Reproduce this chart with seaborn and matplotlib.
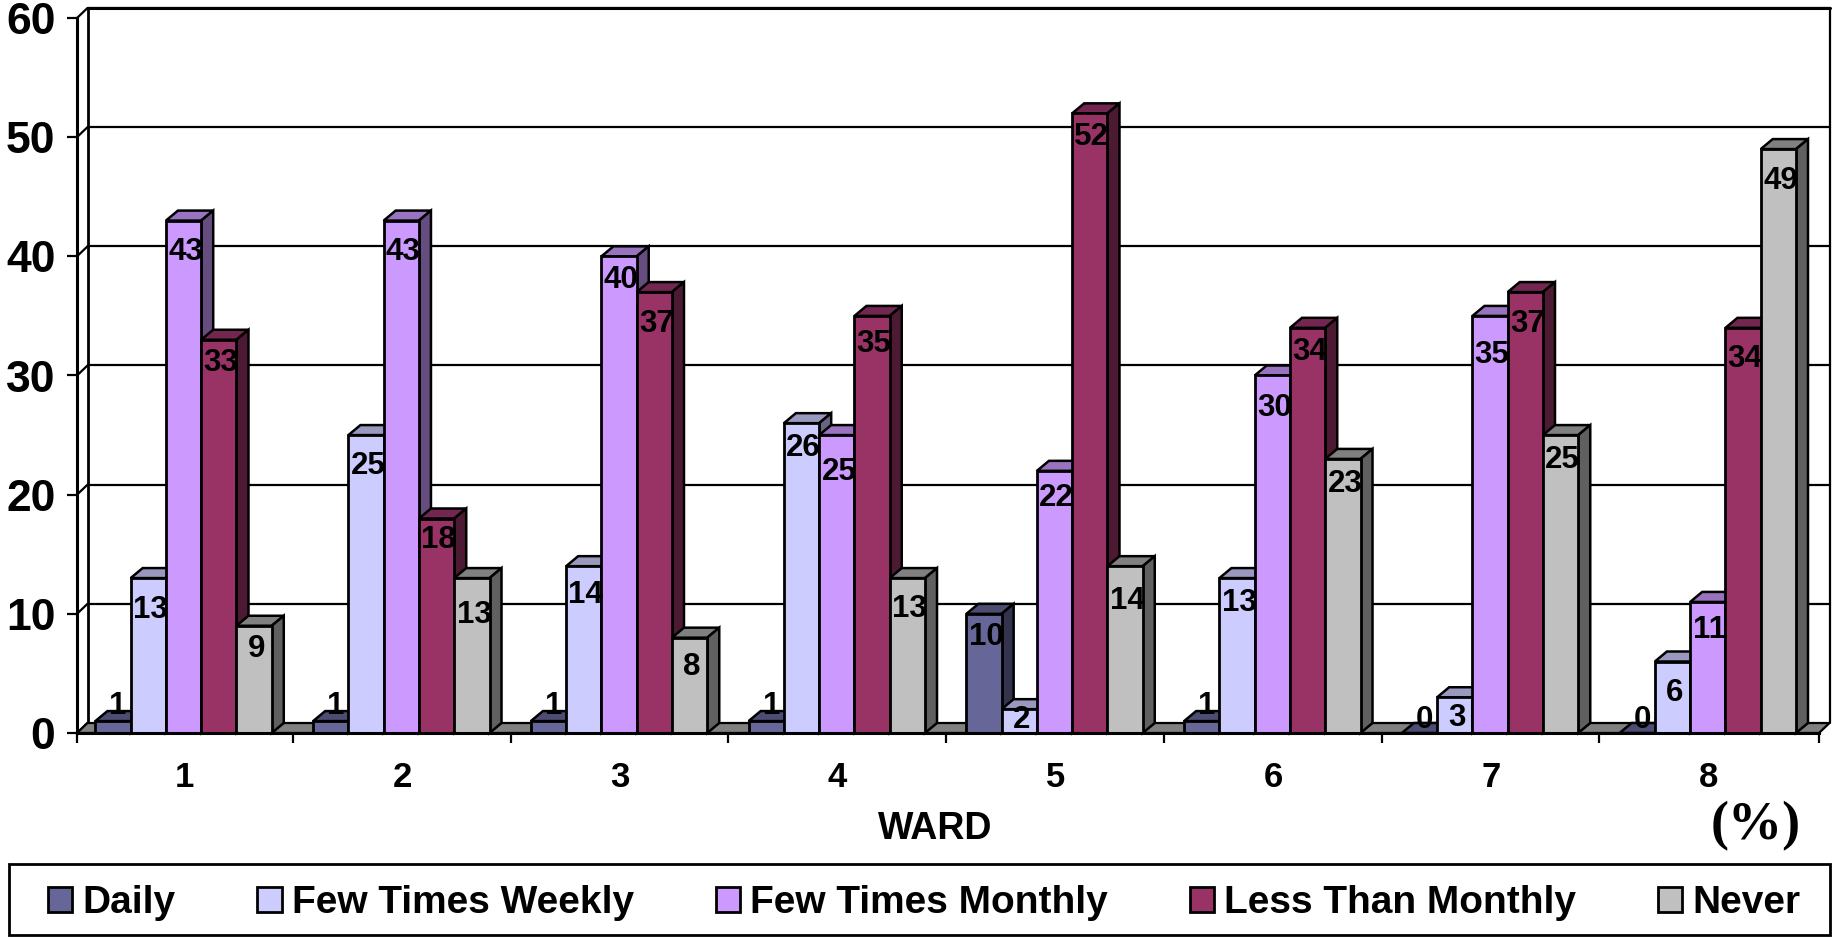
import pandas as pd
import numpy as np
import matplotlib
matplotlib.use('Agg')
import matplotlib.pyplot as plt
from matplotlib.patches import Polygon, Rectangle
import seaborn as sns

# Values
wards = ['1', '2', '3', '4', '5', '6', '7', '8']
daily = [1, 1, 1, 1, 10, 1, 0, 0]
few_weekly = [13, 25, 14, 26, 2, 13, 3, 6]
few_monthly = [43, 43, 40, 25, 22, 30, 35, 11]
less_monthly = [33, 18, 37, 35, 52, 34, 37, 34]
never = [9, 13, 8, 13, 14, 23, 25, 49]
series_names = ['Daily', 'Few Times Weekly', 'Few Times Monthly', 'Less Than Monthly', 'Never']
y_ticks = [0, 10, 20, 30, 40, 50, 60]

# front, top and side colours of the bars
front_colors = ['#666699', '#CCCCFF', '#CC99FF', '#993366', '#C0C0C0']
top_colors = ['#4D4D73', '#9999BF', '#9973BF', '#732650', '#808080']
side_colors = ['#33334D', '#666680', '#664D80', '#4D1A33', '#606060']

# how far each label sits under the bar top, in pixels (negative is above)
label_drop = [
    [-18, 29, 29, 21, 21],
    [-18, 28, 29, 19, 34],
    [-18, 26, 21, 29, 27],
    [-18, 22, 34, 26, 28],
    [21, 8, 25, 21, 32],
    [-18, 22, 30, 22, 23],
    [-16, 18, 37, 29, 22],
    [-16, 29, 26, 29, 29],
]

W, H = 1833, 938
sns.set_style('white')
plt.rcParams['font.family'] = ['Liberation Sans', 'DejaVu Sans']
plt.rcParams['font.weight'] = 'bold'
plt.rcParams['text.color'] = 'black'
plt.rcParams['xtick.color'] = 'black'
plt.rcParams['ytick.color'] = 'black'

# Long table for seaborn
rows = []
for name, vals in zip(series_names, [daily, few_weekly, few_monthly, less_monthly, never]):
    for ward, v in zip(wards, vals):
        rows.append({'ward': ward, 'series': name, 'value': v})
df = pd.DataFrame(rows)

fig = plt.figure(figsize=(W / 100, H / 100), dpi=100)
left, right, bottom, top = 77, 1819, 733, 18
ax = fig.add_axes([left / W, 1 - bottom / H, (right - left) / W, (bottom - top) / H])

sns.barplot(data=df, x='ward', y='value', hue='series', hue_order=series_names, order=wards,
            palette=front_colors, width=0.81, gap=0, saturation=1, dodge=True,
            edgecolor='black', linewidth=2, legend=False, ax=ax, zorder=3)
ax.set_xlim(-0.5, len(wards) - 0.5)
ax.set_ylim(0, 60)
ax.patch.set_alpha(0)

# pixels to data units
px_x = (len(wards)) / (right - left)
px_y = 60 / (bottom - top)
wall_dx, wall_dy = 10.5 * px_x, 10 * px_y
bar_dx, bar_dy = 12 * px_x, 10 * px_y
x0, x1 = ax.get_xlim()

# Back wall, floor and gridlines
for t in y_ticks[1:]:
    ax.plot([x0 + wall_dx, x1 + wall_dx], [t + wall_dy, t + wall_dy], color='black', lw=1.6,
            clip_on=False, zorder=1)
for t in y_ticks:
    ax.plot([x0, x0 + wall_dx], [t, t + wall_dy], color='black', lw=1.6, clip_on=False, zorder=1)
ax.plot([x0 + wall_dx, x0 + wall_dx], [wall_dy, 60 + wall_dy], color='black', lw=2, clip_on=False, zorder=1)
ax.plot([x1 + wall_dx, x1 + wall_dx], [wall_dy, 60 + wall_dy], color='black', lw=1.6, clip_on=False, zorder=1)
ax.plot([x0 + wall_dx, x1 + wall_dx], [60 + wall_dy, 60 + wall_dy], color='black', lw=2.2, clip_on=False, zorder=1)
ax.add_patch(Polygon([(x0, 0), (x1, 0), (x1 + wall_dx, wall_dy), (x0 + wall_dx, wall_dy)],
                     facecolor='#808080', edgecolor='black', lw=1.6, clip_on=False, zorder=2))

# 3D faces and value labels, left to right so that each bar covers the one before it
for s, container in enumerate(ax.containers):
    for g, bar in enumerate(container):
        bar.set_x(bar.get_x() - 2.3 * px_x)
        bx, bw, bh = bar.get_x(), bar.get_width(), bar.get_height()
        z = 3 + g * 10 + s
        bar.set_zorder(z + 0.5)
        bar.set_clip_on(False)
        ax.add_patch(Polygon([(bx, bh), (bx + bw, bh), (bx + bw + bar_dx, bh + bar_dy), (bx + bar_dx, bh + bar_dy)],
                             facecolor=top_colors[s], edgecolor='black', lw=1.8, clip_on=False, zorder=z))
        ax.add_patch(Polygon([(bx + bw, 0), (bx + bw + bar_dx, bar_dy), (bx + bw + bar_dx, bh + bar_dy), (bx + bw, bh)],
                             facecolor=side_colors[s], edgecolor='black', lw=1.8, clip_on=False, zorder=z))
        nudge = 5 if s == 0 and bh < 10 else 2
        ax.annotate(str(int(bh)), (bx + bw / 2, bh), xytext=(nudge, -label_drop[g][s] - 2.5),
                    textcoords='offset pixels', ha='center', va='center', fontsize=22.5,
                    fontweight='bold', color='black', zorder=200, annotation_clip=False)

# Axes lines and ticks
sns.despine(ax=ax, top=True, right=True)
for sp in ['left', 'bottom']:
    ax.spines[sp].set_linewidth(2.2)
    ax.spines[sp].set_color('black')
    ax.spines[sp].set_zorder(100)
ax.set_yticks(y_ticks)
ax.set_yticklabels([str(t) for t in y_ticks], fontsize=32, fontweight='bold', color='black')
ax.tick_params(axis='y', length=7.5, width=1.6, color='black', left=True, pad=8)
ax.set_xticks(np.arange(len(wards)) - 1.5 * px_x)
ax.set_xticklabels(wards, fontsize=25, fontweight='bold', color='black')
boundaries = np.arange(len(wards) + 1) - 0.5
boundaries[1:-1] -= 2 * px_x
ax.set_xticks(boundaries, minor=True)
ax.tick_params(axis='x', which='major', length=0, pad=20.5)
ax.tick_params(axis='x', which='minor', length=7, width=1.6, color='black', bottom=True)
ax.set_xlabel('')
ax.set_ylabel('')

fig.text(935 / W, 1 - 829 / H, 'WARD', ha='center', va='center', fontsize=27, fontweight='bold')
fig.text(1756 / W, 1 - 826 / H, '(%)', ha='center', va='center', fontsize=39, fontweight='bold',
         family='Liberation Serif')

# Legend with its own box along the bottom
handles = [Rectangle((0, 0), 1, 1, facecolor=c, edgecolor='black', lw=2) for c in front_colors]
fig.add_artist(Rectangle((9 / W, 1 - 935 / H), 1821 / W, 71 / H, transform=fig.transFigure,
                         facecolor='white', edgecolor='black', lw=2))
fig.legend(handles, series_names, loc='center left', bbox_to_anchor=(48 / W, 1 - 903 / H),
           ncols=5, frameon=False, fontsize=28, handlelength=0.62, handleheight=0.62,
           handletextpad=0.27, columnspacing=2.1, borderpad=0, borderaxespad=0)

fig.savefig('out.png', dpi=100)
